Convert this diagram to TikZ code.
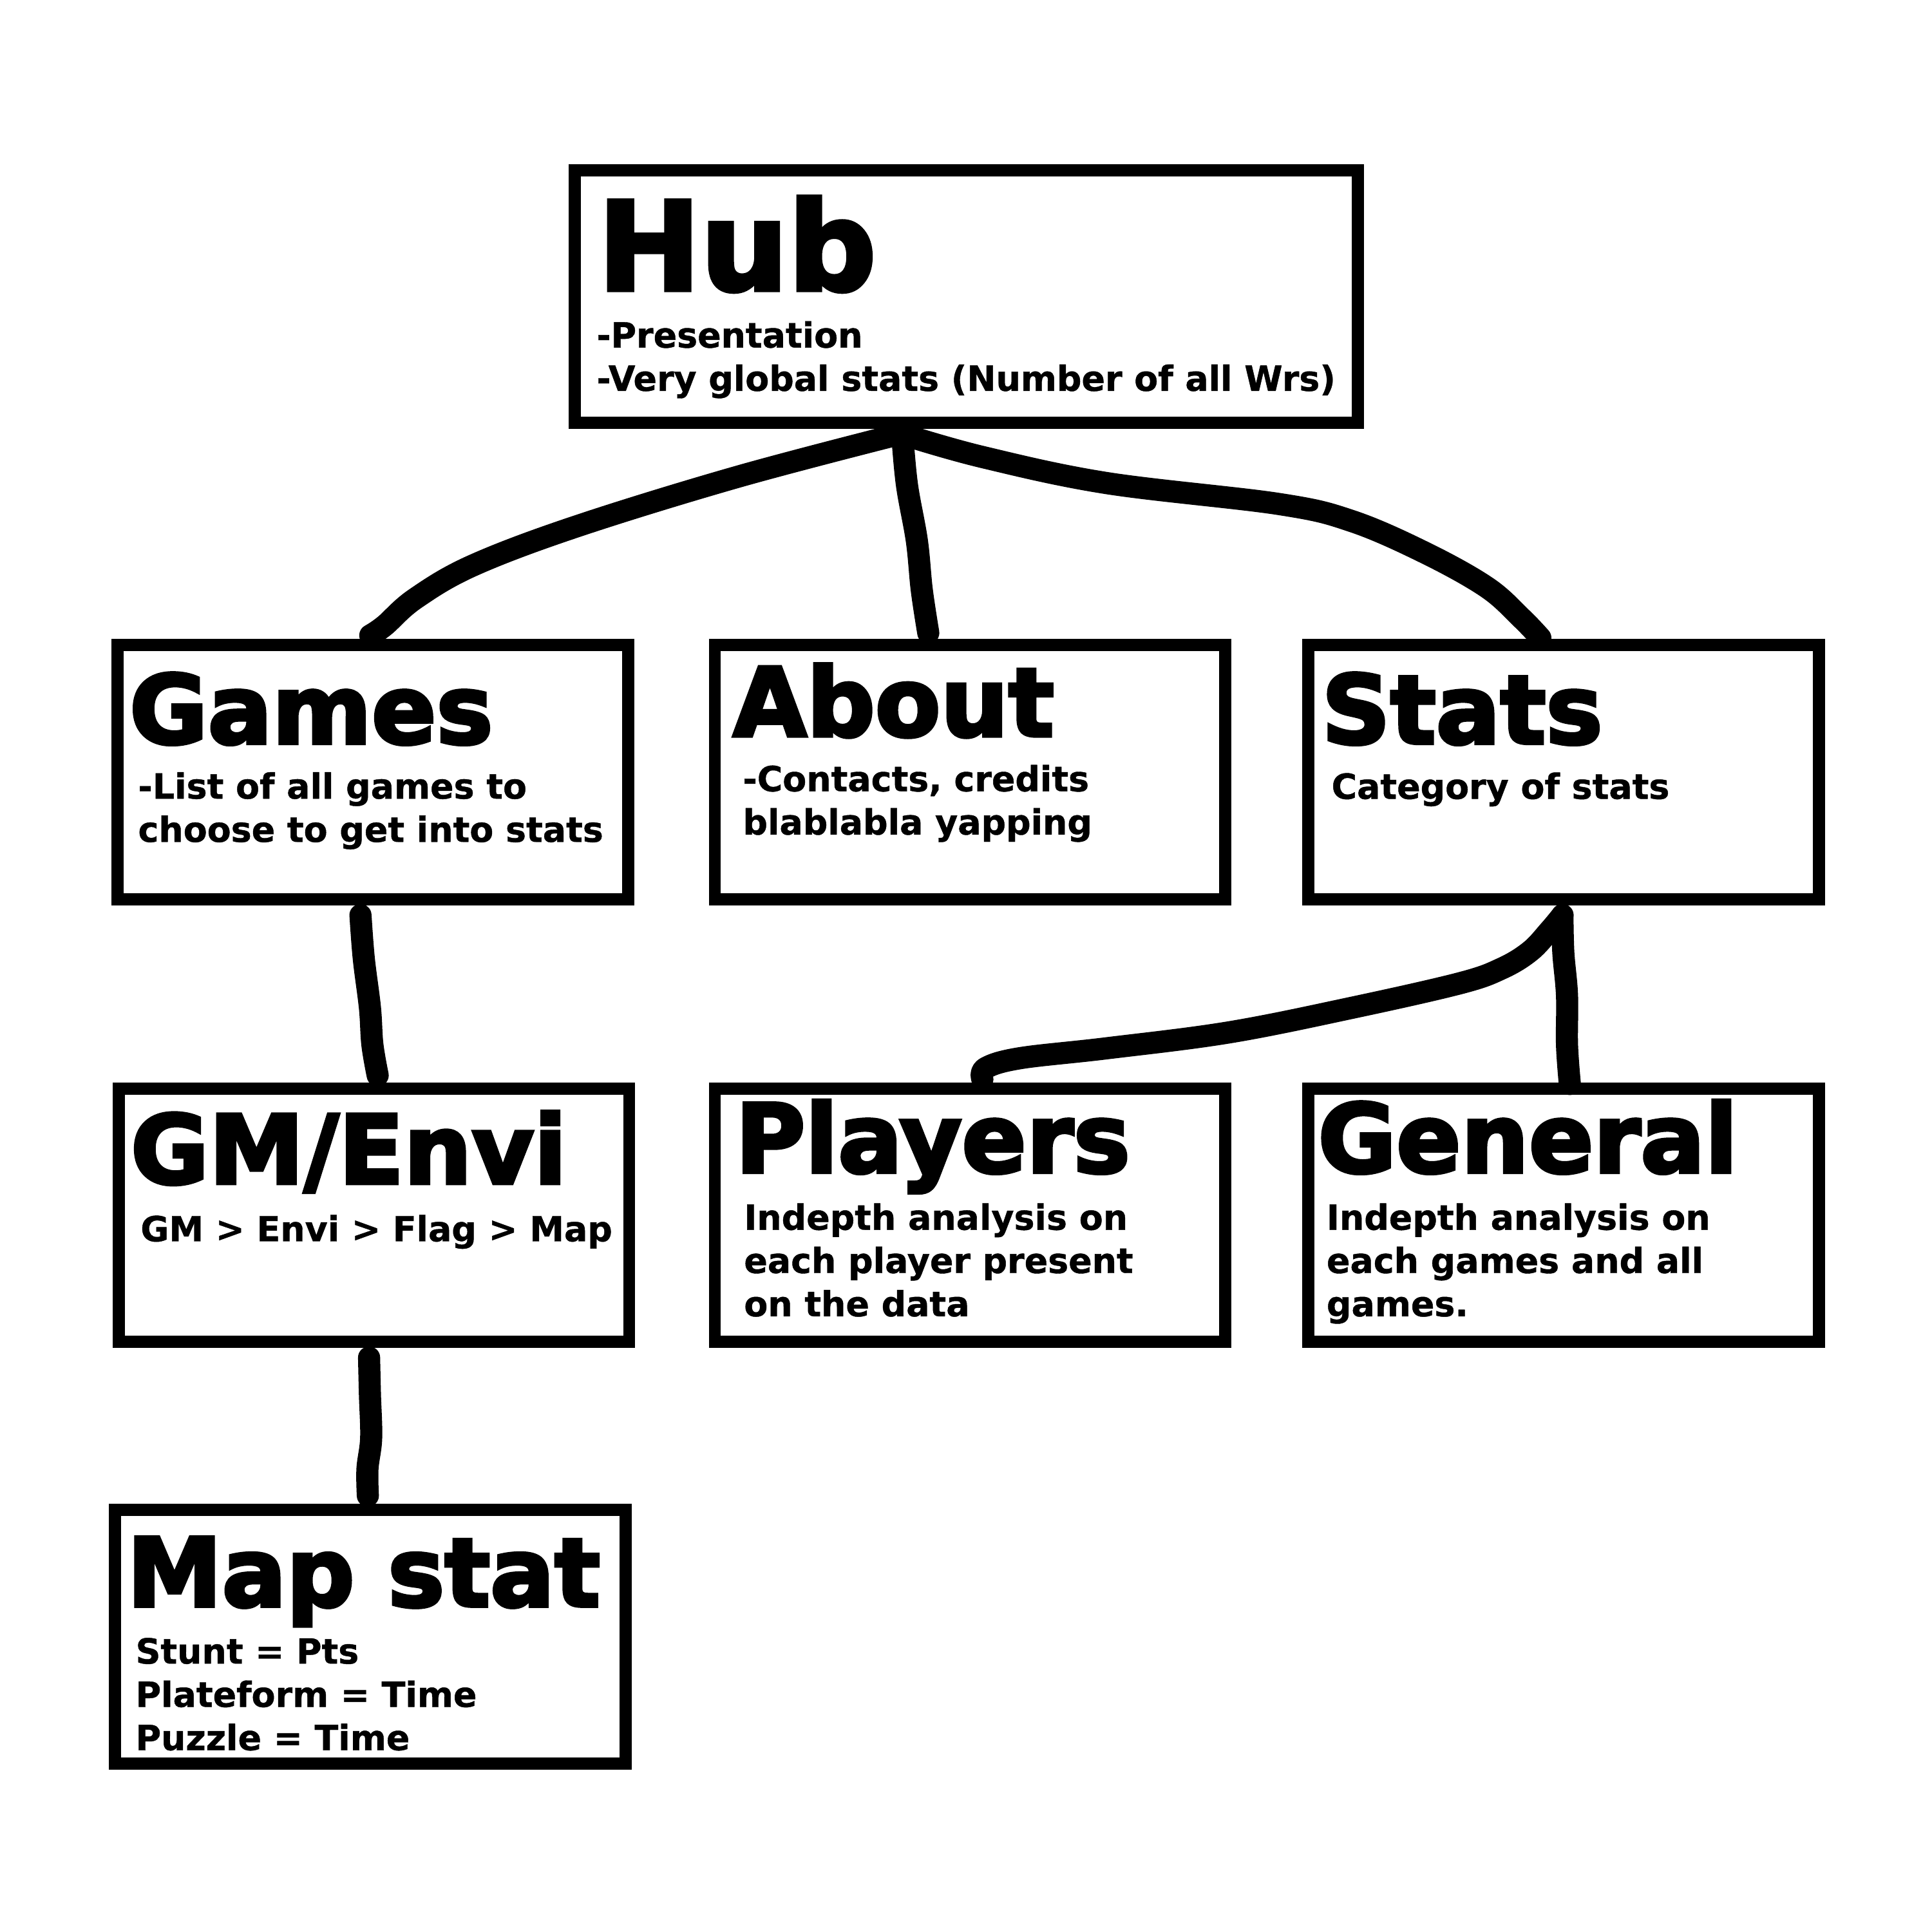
\documentclass[tikz,border=0pt]{standalone}
\usepackage{fontspec}
\usetikzlibrary{calc}
\newfontfamily\ttlfont[FakeBold=3.4]{DejaVu Sans Bold}
\newfontfamily\bodyfont[FakeBold=0.8]{DejaVu Sans Bold}
\tikzset{
  box/.style={draw, line width=3.3pt, fill=white, rectangle, inner sep=0pt, line join=miter},
  ttl/.style={anchor=base west, inner sep=0pt, font=\ttlfont\fontsize{38.8}{46}\selectfont},
  bigttl/.style={anchor=base west, inner sep=0pt, font=\ttlfont\fontsize{50}{60}\selectfont},
  txt/.style={anchor=base west, inner sep=0pt, align=left, font=\bodyfont\fontsize{14.1}{17.6}\selectfont},
  conn/.style={line width=9pt, line cap=round, line join=round},
}
\begin{document}
\begin{tikzpicture}[x=0.5pt, y=-0.5pt]
\fill[white] (0,0) rectangle (1572,1572);
\useasboundingbox (0,0) rectangle (1572,1572);

% boxes
\node[box, minimum width=634*0.5pt, minimum height=202*0.5pt, anchor=north west] (hub) at (466,137) {};
\node[box, minimum width=412*0.5pt, minimum height=204*0.5pt, anchor=north west] (games) at (94,523) {};
\node[box, minimum width=412*0.5pt, minimum height=204*0.5pt, anchor=north west] (about) at (580,523) {};
\node[box, minimum width=412*0.5pt, minimum height=204*0.5pt, anchor=north west] (stats) at (1063,523) {};
\node[box, minimum width=412*0.5pt, minimum height=203*0.5pt, anchor=north west] (gm) at (95,884) {};
\node[box, minimum width=412*0.5pt, minimum height=203*0.5pt, anchor=north west] (players) at (580,884) {};
\node[box, minimum width=412*0.5pt, minimum height=203*0.5pt, anchor=north west] (general) at (1063,884) {};
\node[box, minimum width=412*0.5pt, minimum height=203*0.5pt, anchor=north west] (mapstat) at (92,1227) {};

% connector end points
\coordinate (hA) at ($(hub.south)+(-56,8)$);
\coordinate (hB) at ($(hub.south)+(-52,10)$);
\coordinate (hC) at ($(hub.south)+(-48,9)$);
\coordinate (gN) at ($(games.north)+(-2,-6)$);
\coordinate (aN) at ($(about.north)+(-34,-8)$);
\coordinate (sN) at ($(stats.north)+(-19,-4)$);
\coordinate (gS) at ($(games.south)+(-10,11)$);
\coordinate (gmN) at ($(gm.north)+(3,-9)$);
\coordinate (gmS) at ($(gm.south)+(-4,11)$);
\coordinate (mN) at ($(mapstat.north)+(-2,-10)$);
\coordinate (sS) at ($(stats.south)+(-1,11)$);
\coordinate (pN) at ($(players.north)+(10,-6)$);
\coordinate (geN) at ($(general.north)+(5,-2)$);

% connectors
\draw[conn] plot[smooth, tension=0.6] coordinates {(hA) (600,388) (470,428) (385,460) (338,487) (313,509) (gN)};
\draw[conn] plot[smooth, tension=0.6] coordinates {(hB) (738,395) (746,440) (750,480) (aN)};
\draw[conn] plot[smooth, tension=0.6] coordinates {(hC) (800,372) (900,393) (1040,410) (1100,424) (1160,450) (1210,478) (1238,503) (sN)};
\draw[conn] plot[smooth, tension=0.6] coordinates {(gS) (296,780) (301,820) (303,850) (gmN)};
\draw[conn] plot[smooth, tension=0.6] coordinates {(gmS) (301,1135) (302,1170) (299,1195) (mN)};
\draw[conn] plot[smooth, tension=0.6] coordinates {(sS) (1261,757) (1245,774) (1222,788) (1188,800) (1100,820) (1000,840) (900,853) (830,861) (802,869) (pN)};
\draw[conn] plot[smooth, tension=0.6] coordinates {(sS) (1272,775) (1275,810) (1275,850) (geN)};

% box borders on top of connector ends
\foreach \b in {hub,games,about,stats,gm,players,general,mapstat}{
  \draw[line width=3.3pt] (\b.north west) rectangle (\b.south east);
}

% texts (multi-line nodes: base = last line)
\node[bigttl] (hubT) at (486,236) {Hub};
\node[txt] (hubD) at (485,318) {-Presentation\\-Very global stats (Number of all Wrs)};

\node[ttl] (gamesT) at (105,605) {Games};
\node[txt] (gamesD) at (112,685) {-List of all games to\\choose to get into stats};

\node[ttl] (aboutT) at (596,599) {About};
\node[txt] (aboutD) at (604,679) {-Contacts, credits\\blablabla yapping};

\node[ttl] (statsT) at (1075,605) {Stats};
\node[txt] (statsD) at (1083,650) {Category of stats};

\node[ttl] (gmT) at (106,963) {GM/Envi};
\node[txt] (gmD) at (114,1010) {GM > Envi > Flag > Map};

\node[ttl] (playersT) at (598,954) {Players};
\node[txt] (playersD) at (605,1071) {Indepth analysis on\\each player present\\on the data};

\node[ttl] (generalT) at (1072,954) {General};
\node[txt] (generalD) at (1079,1071) {Indepth analysis on\\each games and all\\games.};

\node[ttl] (mapT) at (103,1307) {Map stat};
\node[txt] (mapD) at (110,1424) {Stunt = Pts\\Plateform = Time\\Puzzle = Time};
\end{tikzpicture}
\end{document}
